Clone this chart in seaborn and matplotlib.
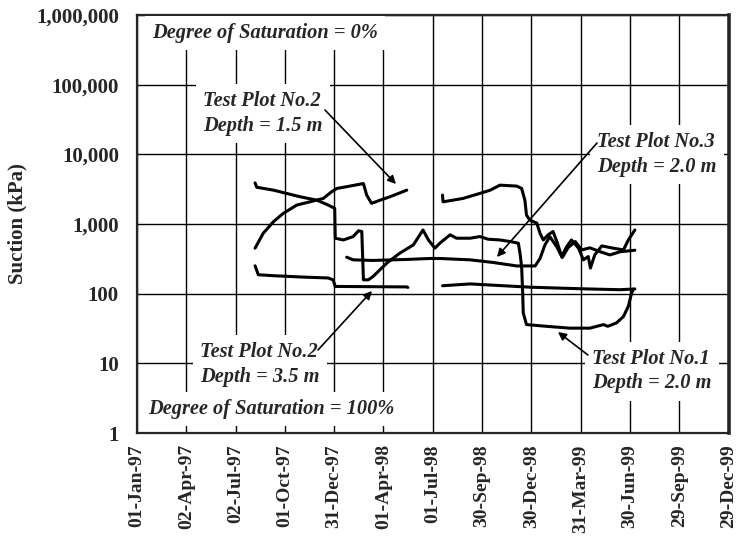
import numpy as np
import pandas as pd
import matplotlib
matplotlib.use('Agg')
import matplotlib.pyplot as plt
import matplotlib.dates as mdates
import matplotlib.ticker as mticker
import seaborn as sns

# days since 01-Jan-97 and suction (kPa)
plot2_15_day_a = [218, 233, 252, 270, 295, 319, 344, 359, 369, 387, 418, 424, 433, 449, 467, 498]
plot2_15_kpa_a = [450, 736, 1080, 1420, 1870, 2080, 2330, 2890, 3240, 3430, 3810, 2600, 1980, 2200, 2460, 3060]
plot2_15_day_b = [564, 565, 602, 633, 652, 670, 701, 710, 716, 719, 725, 738, 744, 750, 759, 768, 775,
                  784, 793, 802, 815, 824, 833, 837, 845, 858, 879, 898, 907, 919]
plot2_15_kpa_b = [2600, 2080, 2330, 2750, 3060, 3610, 3500, 3240, 2200, 1345, 1140, 1030, 736, 590, 700,
                  780, 560, 341, 470, 590, 450, 306, 341, 233, 360, 485, 450, 425, 590, 820]

plot2_35_day_a = [218, 224, 252, 307, 353, 362, 366, 498, 500]
plot2_35_kpa_a = [251, 187, 181, 173, 168, 158, 127, 125, 123]
plot2_35_day_b = [564, 615, 676, 725, 768, 830, 892, 919]
plot2_35_kpa_b = [130, 138, 130, 124, 121, 117, 114, 117]

plot1_day = [218, 221, 252, 276, 301, 332, 353, 365, 366, 381, 399, 409, 415, 418, 427, 436, 461, 485,
             510, 528, 538, 550, 559, 578, 590, 615, 633, 648, 670, 689, 704, 707, 710, 712, 713, 719,
             756, 799, 836, 861, 869, 885, 898, 907, 913, 916]
plot1_kpa = [3890, 3370, 3060, 2750, 2460, 2200, 1870, 1675, 625, 590, 660, 800, 780, 158, 158, 177, 274,
             381, 500, 820, 590, 450, 530, 700, 625, 625, 660, 605, 590, 560, 530, 380, 245, 102, 53, 36,
             34, 32, 32, 36, 34, 38, 47, 66, 102, 114]

plot3_day = [387, 399, 436, 498, 541, 559, 615, 658, 701, 735, 744, 753, 762, 775, 785, 796, 809, 821,
             836, 855, 873, 892, 919]
plot3_kpa = [334, 306, 300, 310, 320, 320, 306, 280, 250, 250, 320, 500, 660, 470, 330, 460, 560, 425,
             455, 400, 360, 400, 420]

tick_dates = ['1997-01-01', '1997-04-02', '1997-07-02', '1997-10-01', '1997-12-31', '1998-04-01',
              '1998-07-01', '1998-09-30', '1998-12-30', '1999-03-31', '1999-06-30', '1999-09-29',
              '1999-12-29']
y_ticks = [1, 10, 100, 1000, 10000, 100000, 1000000]

# build one long table, one "seg" per unbroken line
start = pd.Timestamp('1997-01-01')
parts = [(plot2_15_day_a, plot2_15_kpa_a), (plot2_15_day_b, plot2_15_kpa_b),
         (plot2_35_day_a, plot2_35_kpa_a), (plot2_35_day_b, plot2_35_kpa_b),
         (plot1_day, plot1_kpa), (plot3_day, plot3_kpa)]
frames = []
for i, (d, v) in enumerate(parts):
    frames.append(pd.DataFrame({'date': start + pd.to_timedelta(d, unit='D'),
                                'suction': v, 'seg': i}))
df = pd.concat(frames, ignore_index=True)

sns.set_style('white')
plt.rcParams['font.family'] = ['Liberation Serif', 'DejaVu Serif']
plt.rcParams['font.weight'] = 'bold'

fig = plt.figure(figsize=(7.36, 5.41), dpi=100)
ax = fig.add_axes([0.1861, 0.1996, 0.8038, 0.7727])

sns.lineplot(data=df, x='date', y='suction', units='seg', estimator=None, sort=False,
             color='black', lw=2.2, ax=ax, zorder=2)

ax.set_yscale('log')
ax.set_ylim(1, 1e6)
ax.set_xlim(pd.Timestamp(tick_dates[0]), pd.Timestamp(tick_dates[-1]))

major = mdates.date2num(pd.to_datetime(tick_dates))
ax.xaxis.set_major_locator(mticker.FixedLocator(major))
ax.xaxis.set_major_formatter(mdates.DateFormatter('%d-%b-%y'))
ax.xaxis.set_minor_locator(mticker.FixedLocator(np.arange(major[0], major[-1], 91 / 6)))
ax.set_yticks(y_ticks)
ax.yaxis.set_major_formatter(mticker.FuncFormatter(lambda v, p: f'{v:,.0f}'))
ax.yaxis.set_minor_locator(mticker.LogLocator(base=10, subs=np.arange(2, 10)))
ax.yaxis.set_minor_formatter(mticker.NullFormatter())

ax.tick_params(axis='x', which='major', direction='in', length=8, width=1.2, labelsize=14,
               labelrotation=90, pad=8)
ax.tick_params(axis='x', which='minor', direction='in', length=5, width=1.2)
ax.tick_params(axis='y', which='major', direction='in', length=8, width=1.2, labelsize=15, pad=13)
ax.tick_params(axis='y', which='minor', direction='in', length=6, width=1.5)
for lab in ax.get_xticklabels() + ax.get_yticklabels():
    lab.set_fontweight('bold')

ax.grid(True, which='major', color='black', lw=1.0)
ax.set_axisbelow(True)

ax.spines['left'].set_linewidth(1.6)
ax.spines['bottom'].set_linewidth(1.6)
ax.spines['top'].set_linewidth(1.6)
ax.spines['right'].set_linewidth(2.6)

ax.set_xlabel('')
ax.set_ylabel('Suction (kPa)', fontsize=15, fontweight='bold', labelpad=6)

box = dict(facecolor='white', edgecolor='none', boxstyle='square,pad=0.35')
tkw = dict(transform=ax.transAxes, fontsize=14.7, fontstyle='italic', fontweight='bold',
           ha='left', va='center', bbox=box, zorder=3, linespacing=1.3)
ax.text(0.0254, 0.957, 'Degree of Saturation = 0%', **tkw)
ax.text(0.1116, 0.764, 'Test Plot No.2\nDepth = 1.5 m', **tkw)
ax.text(0.7776, 0.666, 'Test Plot No.3\nDepth = 2.0 m', **tkw)
ax.text(0.1065, 0.164, 'Test Plot No.2\nDepth = 3.5 m', **tkw)
ax.text(0.0186, 0.0574, 'Degree of Saturation = 100%', **tkw)
ax.text(0.769, 0.148, 'Test Plot No.1\nDepth = 2.0 m', **tkw)

arrow = dict(arrowstyle='-|>', color='black', lw=1.2, mutation_scale=12, shrinkA=0, shrinkB=0)
for tail, head in [((0.3178, 0.7727), (0.4378, 0.5957)),
                   ((0.7776, 0.6938), (0.6085, 0.4211)),
                   ((0.3060, 0.1986), (0.3972, 0.3397)),
                   ((0.7623, 0.1866), (0.7116, 0.2416))]:
    ax.annotate('', xy=head, xytext=tail, xycoords='axes fraction', arrowprops=arrow, zorder=4)

fig.savefig('out.png', dpi=100)
